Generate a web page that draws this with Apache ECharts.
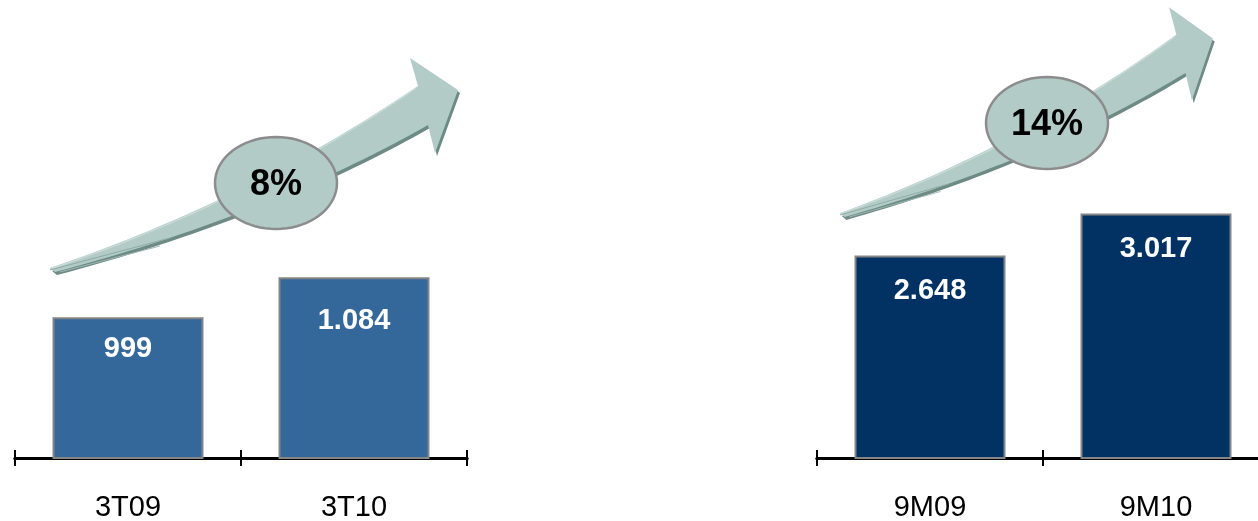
<!DOCTYPE html>
<html><head><meta charset="utf-8">
<script src="https://cdn.jsdelivr.net/npm/echarts@6/dist/echarts.min.js"></script>
<style>html,body{margin:0;padding:0;background:#fff}#c{width:1258px;height:521px}</style>
</head><body><div id="c"></div>
<script>
const leftCategories = ['3T09', '3T10'];
const leftValues = [999, 1084];
const rightCategories = ['9M09', '9M10'];
const rightValues = [2648, 3017];
const growthLabels = ['8%', '14%'];

const leftLabelDist = [17, 29];
const rightLabelDist = [21, 21];

function fmt(v) {
  return String(v).replace(/\B(?=(\d{3})+(?!\d))/g, '.');
}

const chart = echarts.init(document.getElementById('c'), null, {renderer: 'canvas'});

function quad(p0, c, p1, n) {
  const pts = [];
  for (let i = 0; i <= n; i++) {
    const t = i / n, u = 1 - t;
    pts.push([u * u * p0[0] + 2 * u * t * c[0] + t * t * p1[0], u * u * p0[1] + 2 * u * t * c[1] + t * t * p1[1]]);
  }
  return pts;
}
function arrowPoints() {
  const upper = quad([0, -2], [200, -70], [368, -184], 40);
  const head = [[360, -212], [408, -180], [385, -117]];
  const lower = quad([378, -145], [220, -55], [5, 2], 40);
  return upper.concat(head, lower);
}
function arrow(x, y, sx, sy) {
  const pts = arrowPoints();
  return {
    type: 'group', x: x, y: y, scaleX: sx, scaleY: sy, z: 1,
    children: [
      {type: 'polygon', x: 2, y: 3, shape: {points: pts}, style: {fill: '#6d8a84'}},
      {type: 'polygon', shape: {points: pts}, style: {fill: '#b2cbc6'}},
      {type: 'polyline', shape: {points: quad([0, -1], [200, -68], [366, -182], 30)}, style: {stroke: '#c9dbd7', lineWidth: 1.5, fill: null}},
      {type: 'line', shape: {x1: 0, y1: 0, x2: 120, y2: -32}, style: {stroke: '#8fa9a4', lineWidth: 1}},
      {type: 'line', shape: {x1: 10, y1: 2, x2: 110, y2: -24}, style: {stroke: '#9fb8b3', lineWidth: 1}}
    ]
  };
}
function bubble(cx, cy, txt) {
  return {
    type: 'group', z: 5,
    children: [
      {type: 'polygon', shape: {points: Array.from({length: 73}, (_, i) => [cx + 61 * Math.cos(i * Math.PI / 36), cy + 46 * Math.sin(i * Math.PI / 36)])},
        style: {fill: '#b2cbc6', stroke: '#8c8c8c', lineWidth: 2.5}},
      {type: 'text', x: cx, y: cy + 2, style: {text: txt, fill: '#000', font: 'bold 36px "Liberation Sans", Arial, sans-serif', align: 'center', verticalAlign: 'middle'}}
    ]
  };
}

const axisCommon = {
  type: 'category',
  position: 'bottom',
  axisLine: {lineStyle: {color: '#000', width: 3}},
  axisTick: {show: true, length: 8, lineStyle: {color: '#000', width: 2}},
  axisLabel: {color: '#000', fontSize: 29, fontFamily: '"Liberation Sans", Arial, sans-serif', margin: 35}
};
const innerTick = {axisTick: {show: true, inside: true, length: 8, lineStyle: {color: '#000', width: 2}}, axisLabel: {show: false}};

function barSeries(idx, vals, dists, color) {
  return {
    type: 'bar', xAxisIndex: idx * 2, yAxisIndex: idx,
    barWidth: 151,
    data: vals.map((v, i) => ({value: v, label: {distance: dists[i]}})),
    itemStyle: {color: color, borderColor: '#858585', borderWidth: 2},
    label: {
      show: true, position: 'insideTop', color: '#fff',
      fontSize: 29, fontWeight: 'bold', fontFamily: '"Liberation Sans", Arial, sans-serif',
      formatter: p => fmt(p.value)
    },
    z: 3
  };
}

chart.setOption({
  animation: false,
  backgroundColor: '#fff',
  grid: [
    {left: 15, width: 452, top: 81.5, height: 376.5, outerBoundsMode: 'none', containLabel: false},
    {left: 817, width: 452, top: 101.7, height: 356.3, outerBoundsMode: 'none', containLabel: false}
  ],
  xAxis: [
    Object.assign({}, axisCommon, {gridIndex: 0, data: leftCategories}),
    Object.assign({}, axisCommon, innerTick, {gridIndex: 0, data: leftCategories}),
    Object.assign({}, axisCommon, {gridIndex: 1, data: rightCategories}),
    Object.assign({}, axisCommon, innerTick, {gridIndex: 1, data: rightCategories})
  ],
  yAxis: [
    {type: 'value', gridIndex: 0, min: 700, max: 1500, show: false, splitLine: {show: false}},
    {type: 'value', gridIndex: 1, min: 870, max: 4000, show: false, splitLine: {show: false}}
  ],
  series: [
    barSeries(0, leftValues, leftLabelDist, '#34679a'),
    barSeries(1, rightValues, rightLabelDist, '#023263')
  ],
  graphic: [
    arrow(50, 270, 1, 1),
    arrow(840, 215, 0.914, 0.98),
    bubble(276, 183, growthLabels[0]),
    bubble(1047, 123, growthLabels[1])
  ]
});
</script></body></html>
